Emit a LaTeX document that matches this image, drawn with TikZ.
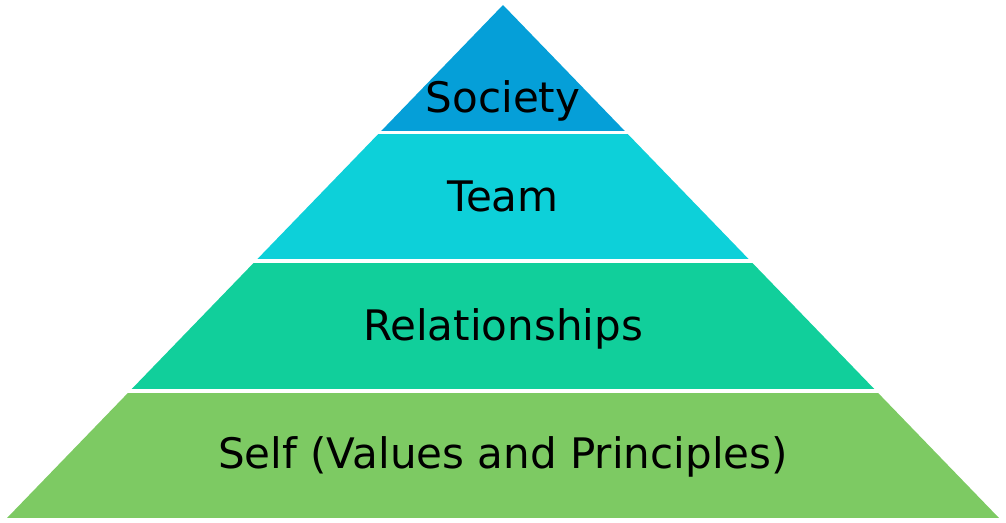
\documentclass[tikz,border=0pt]{standalone}
\usepackage{fontspec}
\setmainfont{DejaVu Sans}
\definecolor{society}{HTML}{059FD8}
\definecolor{team}{HTML}{0DD0D9}
\definecolor{relation}{HTML}{11CF9B}
\definecolor{self}{HTML}{7DCA63}
\tikzset{layer/.style={anchor=base,inner sep=0pt,font=\fontsize{29.9}{36}\selectfont}}
\begin{document}
\begin{tikzpicture}[x=0.025cm,y=-0.025cm]
                                     \useasboundingbox (0,0) rectangle (1006,522);
                                     \begin{scope}
                                     \clip (503,5) -- (999,518) -- (7,518) -- cycle;
                                     \foreach \T/\B/\C in {5/130.5/society,133.5/259.2/team,262.8/389/relation,392.5/518/self}
                                     \fill[\C] (0,\T) rectangle (1006,\B);
                                     \end{scope}
                                     \node[layer] (society) at (503,112) {Society};
                                     \node[layer] (team) at (503,211) {Team};
                                     \node[layer] (relation) at (503,340) {Relationships};
                                     \node[layer] (self) at (503,468) {Self (Values and Principles)};
                                 \end{tikzpicture}
\end{document}
